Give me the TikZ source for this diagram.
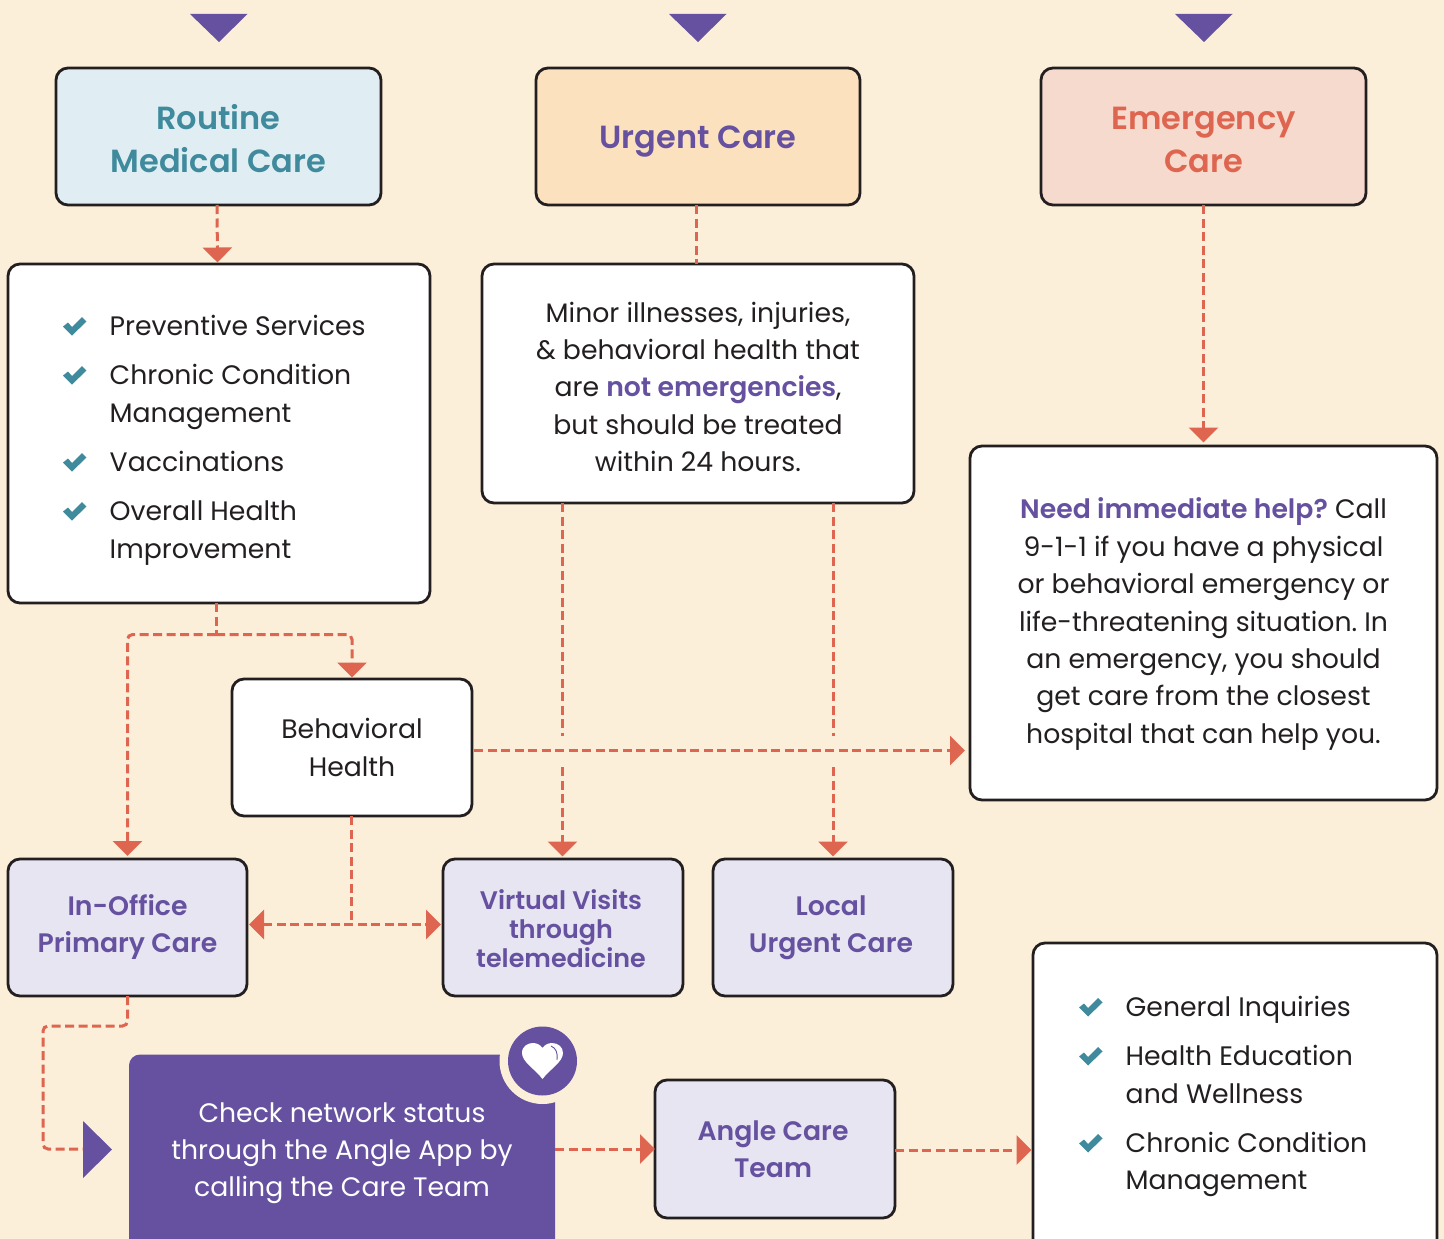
\documentclass[tikz,border=0pt]{standalone}
\usepackage{fontspec}
\setmainfont{Poppins}[BoldFont={Poppins SemiBold}]
\usetikzlibrary{arrows.meta,calc}
\definecolor{bgcream}{HTML}{FCEFD9}
\definecolor{inkdark}{HTML}{231F20}
\definecolor{routinefill}{HTML}{E0EEF3}
\definecolor{urgentfill}{HTML}{FBE1BD}
\definecolor{emergfill}{HTML}{F7DACE}
\definecolor{lilac}{HTML}{E7E5F1}
\definecolor{violet}{HTML}{6551A0}
\definecolor{tealc}{HTML}{3F8A9C}
\definecolor{coral}{HTML}{DE6650}
\newcommand{\nudge}[1]{\rule{0pt}{#1pt}}
\newcommand{\pushleft}{\kern4pt\mbox{}}
\frenchspacing
\tikzset{
  x=1pt,y=-1pt,
  box/.style={draw=inkdark,line width=2.8pt,rounded corners=12pt,outer sep=0pt,inner sep=0pt,align=flush center,text=inkdark,font=\fontsize{26.7}{37.4}\selectfont},
  bighead/.style={font=\fontsize{32}{43}\selectfont\bfseries},
  subhead/.style={font=\fontsize{26.7}{37}\selectfont\bfseries,text=violet,fill=lilac},
  plain/.style={fill=white},
  listline/.style={anchor=base west,inner sep=0pt,text=inkdark,font=\fontsize{26.7}{37.4}\selectfont},
  flow/.style={draw=coral,line width=3pt,dash pattern=on 9pt off 4.5pt,rounded corners=5pt},
  flowtip/.style={flow,-{Triangle[length=15pt,width=29pt,fill=coral]}},
  flowboth/.style={flow,{Triangle[length=15pt,width=29pt,fill=coral]}-{Triangle[length=15pt,width=29pt,fill=coral]}},
  checkmark/.pic={\fill[tealc] (-12,0.5)--(-7,-3.5)--(-3,1)--(7,-9)--(11.5,-4.5)--(-3,9.5)--cycle;},
}
\begin{document}
\begin{tikzpicture}
\useasboundingbox (0,0) rectangle (1444,1239);
\clip (0,0) rectangle (1444,1239);
\fill[bgcream] (0,0) rectangle (1444,1239);

% header triangles
\fill[violet] (190,14)--(247.5,14)--(219,42)--cycle;
\fill[violet] (669,14)--(726.5,14)--(698,42)--cycle;
\fill[violet] (1175,14)--(1232.5,14)--(1204,42)--cycle;

% header boxes
\node[box,bighead,fill=routinefill,text=tealc,minimum width=325pt,text width=319pt,minimum height=137pt] (routine) at (218.5,136.5) {\nudge{30}Routine\\Medical Care};
\node[box,bighead,fill=urgentfill,text=violet,minimum width=324pt,text width=318pt,minimum height=137pt] (urgent) at (698,136.5) {\nudge{32}Urgent Care};
\node[box,bighead,fill=emergfill,text=coral,minimum width=325pt,text width=319pt,minimum height=137pt] (emergency) at (1203.5,136.5) {\nudge{30}Emergency\\Care};

% text boxes
\node[box,plain,minimum width=422pt,minimum height=339pt] (services) at (219,433.5) {};
\node[box,plain,minimum width=432pt,text width=426pt,minimum height=239pt] (minor) at (698,383.5) {\nudge{27}Minor illnesses, injuries,\\\& behavioral health that\\are \textcolor{violet}{\textbf{not emergencies}},\\but should be treated\\within 24 hours.};
\node[box,plain,minimum width=467pt,text width=461pt,minimum height=354pt] (help) at (1203.5,623) {\nudge{23}\textcolor{violet}{\textbf{Need immediate help?}} Call\\9-1-1 if you have a physical\\or behavioral emergency or\\life-threatening situation. In\\an emergency, you should\\get care from the closest\\hospital that can help you.};
\node[box,plain,minimum width=240pt,text width=234pt,minimum height=137pt,font=\fontsize{26.7}{38}\selectfont] (behav) at (352,747.5) {Behavioral\\Health};

% care options
\node[box,subhead,minimum width=239pt,text width=233pt,minimum height=137pt] (office) at (127.5,927.5) {In-Office\\Primary Care};
\node[box,subhead,minimum width=240pt,text width=234pt,minimum height=137pt,font=\fontsize{25.4}{29}\selectfont\bfseries] (virtual) at (563,927.5) {\nudge{23}Virtual Visits\pushleft\\through\pushleft\\telemedicine\pushleft};
\node[box,subhead,minimum width=240pt,text width=234pt,minimum height=137pt] (local) at (833,927.5) {\nudge{20}Local\pushleft\\Urgent Care\pushleft};
\node[box,subhead,minimum width=240pt,text width=234pt,minimum height=138pt] (team) at (775,1149) {\nudge{20}Angle Care\pushleft\\Team\pushleft};
\node[box,plain,minimum width=404pt,minimum height=330pt] (inquiries) at (1235,1108) {};

% purple box
\node[draw=none,fill=violet,rounded corners=11pt,outer sep=0pt,inner sep=0pt,minimum width=426pt,minimum height=215pt] (network) at (342,1162) {};
\node[text=white,align=center,inner sep=0pt,font=\fontsize{26.7}{37}\selectfont] (networktext) at (342,1153) {Check network status\\through the Angle App by\\calling the Care Team};
\fill[bgcream] (542.5,1061) circle (43);
\fill[violet] (542.5,1061) circle (34.5);
\fill[white] (542.5,1079) .. controls (535,1069) and (522,1062) .. (522,1053) .. controls (522,1046) and (528,1043) .. (533,1043) .. controls (537,1043) and (540.5,1045) .. (542.5,1048) .. controls (544.5,1045) and (548,1043) .. (552,1043) .. controls (558,1043) and (563,1047) .. (563,1053) .. controls (563,1062) and (550,1069) .. (542.5,1079) -- cycle;
\draw[violet,line width=0.9pt] (551,1046) .. controls (556,1048) and (558,1053) .. (557,1060);
\fill[violet] (83,1121)--(112,1149.5)--(83,1178)--cycle;
\coordinate (entry) at (83,1149);

% list one
\pic at (75,326) {checkmark};
\pic at (75,375) {checkmark};
\pic at (75,462) {checkmark};
\pic at (75,511) {checkmark};
\node[listline] (s1) at (109.5,335) {Preventive Services};
\node[listline] (s2) at (109.5,384) {Chronic Condition};
\node[listline] (s3) at (109.5,422) {Management};
\node[listline] (s4) at (109.5,471) {Vaccinations};
\node[listline] (s5) at (109.5,520) {Overall Health};
\node[listline] (s6) at (109.5,558) {Improvement};

% list two
\pic at (1091,1007) {checkmark};
\pic at (1091,1056) {checkmark};
\pic at (1091,1143) {checkmark};
\node[listline] (i1) at (1125.5,1016) {General Inquiries};
\node[listline] (i2) at (1125.5,1065) {Health Education};
\node[listline] (i3) at (1125.5,1103) {and Wellness};
\node[listline] (i4) at (1125.5,1152) {Chronic Condition};
\node[listline] (i5) at (1125.5,1189) {Management};

% connectors
\draw[flowtip] ($(routine.south)+(-1.5,0)$) -- ($(services.north)+(-1.5,-1.5)$);
\draw[flow] ($(urgent.south)+(-1.5,0)$) -- ($(minor.north)+(-1.5,0)$);
\draw[flowtip] (emergency.south) -- ($(help.north)+(0,-3.5)$);
\coordinate (fork) at ($(services.south)+(-3,31.5)$);
\draw[flow] ($(services.south)+(-3,0)$) -- (fork);
\draw[flowtip] (fork) -| ($(office.north)+(0,-3)$);
\draw[flowtip] (fork) -| ($(behav.north)+(0,-1.5)$);
\coordinate (hop) at ($(behav.east)+(2,3)$);
\draw[flowtip,shorten >=5pt] (hop) -- (hop -| help.west);
\draw[flow] ($(minor.south)+(-135.5,0)$) -- (562.5,736);
\draw[flowtip] (562.5,767) -- ($(virtual.north)+(-0.5,-2.5)$);
\draw[flow] ($(minor.south)+(135,0)$) -- (833,736);
\draw[flowtip] (833,767) -- ($(local.north)+(0,-2.5)$);
\coordinate (split) at (351.5,924.5);
\draw[flow] ($(behav.south)+(-0.5,0)$) -- (split);
\draw[flowboth,shorten <=2pt,shorten >=2pt] (split -| office.east) -- (split -| virtual.west);
\draw[flow] (office.south) -- ++(0,30) -| (43,1149) -- (entry);
\draw[flowtip] (555,1149) -- (team.west);
\draw[flowtip] ($(team.east)+(0,1)$) -- ($(inquiries.west |- team.east)+(-1.5,1)$);
\end{tikzpicture}
\end{document}
